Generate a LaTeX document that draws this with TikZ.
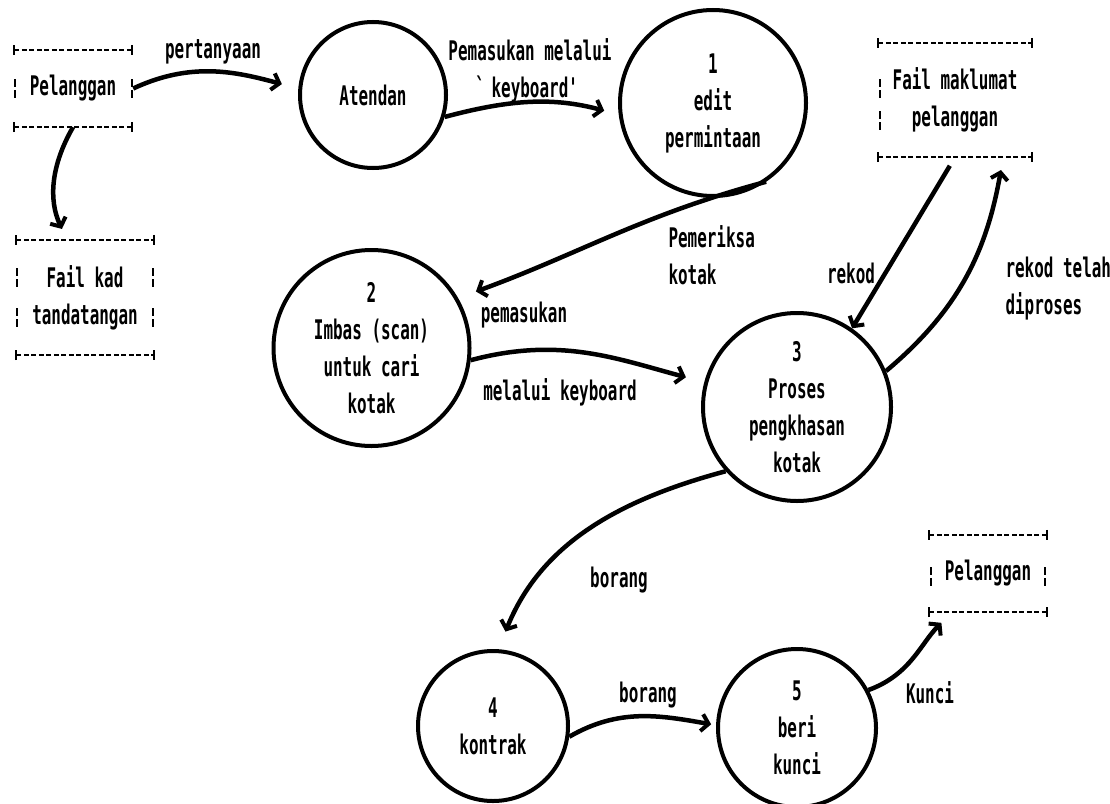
\documentclass[tikz,border=0pt]{standalone}
\usepackage{fontspec}
\newfontfamily\dotfont{DejaVu Sans Mono}[FakeStretch=0.59]
\usetikzlibrary{arrows.meta}

\begin{document}
\begin{tikzpicture}[x=1pt, y=-1pt, >={Straight Barb[length=7pt,width=17pt,line width=4pt]},
    font={\dotfont\bfseries\fontsize{27}{37}\selectfont},
    proc/.style={circle, draw, line width=4pt, inner sep=0pt, align=center},
    store/.style={inner sep=0pt, align=center},
    flow/.style={->, line width=4.5pt},
    storerule/.style={line width=2pt, dash pattern=on 5pt off 2.5pt, {Bar[width=10pt]}-{Bar[width=10pt]}},
    sidebar/.style={line width=2pt, dash pattern=on 8pt off 3pt}]
    \useasboundingbox (0,0) rectangle (1110,803);
    % data stores
    \node[store, minimum width=120pt, minimum height=77pt] (cust) at (73,88.5) {Pelanggan};
    \node[store, minimum width=140pt, minimum height=115pt] (sig) at (85,297.5) {Fail kad\\tandatangan};
    \node[store, minimum width=156pt, minimum height=114pt] (info) at (955,100) {Fail maklumat\\pelanggan};
    \node[store, minimum width=120pt, minimum height=77pt] (cust2) at (988,573.5) {Pelanggan};
    \draw[storerule] (cust.north west) -- (cust.north east);
    \draw[storerule] (cust.south west) -- (cust.south east);
    \draw[storerule] (sig.north west) -- (sig.north east);
    \draw[storerule] (sig.south west) -- (sig.south east);
    \draw[storerule] (info.north west) -- (info.north east);
    \draw[storerule] (info.south west) -- (info.south east);
    \draw[storerule] (cust2.north west) -- (cust2.north east);
    \draw[storerule] (cust2.south west) -- (cust2.south east);
    \draw[sidebar] (15,79) -- (15,98) (132,79) -- (132,98);
    \draw[sidebar] (17,268) -- (17,287) (153,268) -- (153,287) (17,308) -- (17,327) (153,308) -- (153,327);
    \draw[sidebar] (880,79) -- (880,98) (880,111) -- (880,130);
    \draw[sidebar] (931,567) -- (931,586) (1045,567) -- (1045,586);
    % processes
    \node[proc, minimum size=146pt] (aten) at (373,95) {Atendan};
    \node[proc, minimum size=186pt] (edit) at (713,103) {1\\edit\\permintaan};
    \node[proc, minimum size=196pt] (scan) at (371.5,348) {2\\Imbas (scan)\\untuk cari\\kotak};
    \node[proc, minimum size=188pt] (spec) at (797,407) {3\\Proses\\pengkhasan\\kotak};
    \node[proc, minimum size=150pt] (contr) at (493,726) {4\\kontrak};
    \node[proc, minimum size=158pt] (key) at (797,728) {5\\beri\\kunci};
    % flows
    \draw[flow, shorten >=17pt] (cust.east) to[out=25, in=165] (aten.175);
    \draw[flow, shorten >=12pt] (cust.south) to[out=240, in=115] ([xshift=-18pt]sig.north);
    \draw[flow, shorten >=15pt] (aten.-17) to[out=15, in=165] (edit.187);
    \draw[flow, shorten >=19pt] (edit.-56) to[out=195, in=20] (scan.30);
    \draw[flow, shorten >=19pt] (scan.-7) to[out=15, in=165] (spec.165);
    \draw[flow, shorten <=10pt] (info.south) -- (spec.55);
    \draw[flow, shorten >=13pt] (spec.22) to[out=40, in=-100] ([xshift=-30pt]info.south east);
    \draw[flow, shorten >=19pt] (spec.222) to[out=195, in=68] (contr.86);
    \draw[flow, shorten >=5pt] (contr.-8) to[out=30, in=170] (key.178);
    \draw[flow, shorten >=15pt] (key.28) to[out=20, in=-135] ([xshift=-36pt]cust2.south);
    % labels
    \node (ask) at (213,52) {pertanyaan};
    \node[align=center] (type) at (530,71) {Pemasukan melalui\\\textasciigrave keyboard\textquotesingle};
    \node[anchor=west, align=left] (check) at (665,255) {Pemeriksa\\kotak};
    \node (entry) at (524,315) {pemasukan};
    \node (via) at (560,392) {melalui keyboard};
    \node (rec) at (851,273) {rekod};
    \node[anchor=west, align=left] (done) at (1002,289) {rekod telah\\diproses};
    \node (form) at (619,580) {borang};
    \node (form2) at (648,695) {borang};
    \node (lock) at (930,693) {Kunci};
\end{tikzpicture}
\end{document}
